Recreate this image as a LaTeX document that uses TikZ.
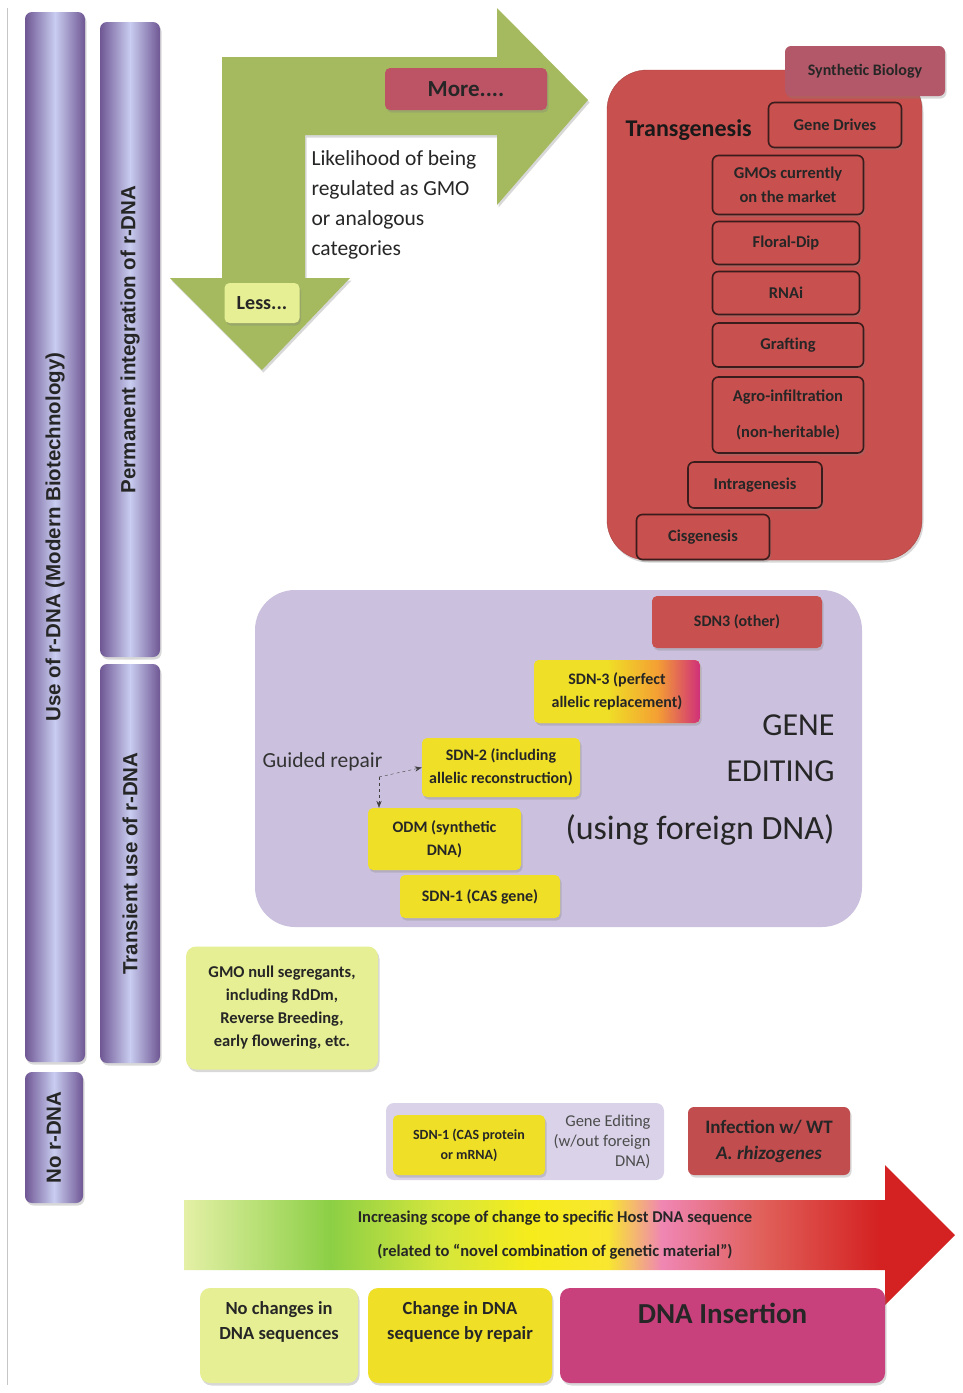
\documentclass[tikz,border=0pt]{standalone}
\usepackage{fontspec}
\setmainfont{Carlito}
\newfontfamily\arialfont{Liberation Sans}[BoldFont={Liberation Sans Bold}]
\usetikzlibrary{positioning,shadows,arrows.meta}

\definecolor{barpurple}{HTML}{6F5794}
\definecolor{barlight}{HTML}{C9CDF0}
\definecolor{arrowgreen}{HTML}{A5BA5F}
\definecolor{morerose}{HTML}{BD5466}
\definecolor{synthrose}{HTML}{B35868}
\definecolor{tgred}{HTML}{C8504E}
\definecolor{boxedge}{HTML}{3B1C1C}
\definecolor{gelav}{HTML}{CBC1DE}
\definecolor{sdnyel}{HTML}{EFDF26}
\definecolor{lightyg}{HTML}{E6EF93}
\definecolor{lavtwo}{HTML}{D9D2E8}
\definecolor{insmag}{HTML}{C8417C}
\definecolor{infred}{HTML}{C24D4F}
\definecolor{sdnorange}{HTML}{F4A033}
\definecolor{sdnmag}{HTML}{D0307A}

\definecolor{sc0}{HTML}{E4F0A6}
\definecolor{sc1}{HTML}{8CCF45}
\definecolor{sc2}{HTML}{D4E63C}
\definecolor{sc3}{HTML}{F6EC1C}
\definecolor{sc4}{HTML}{F8E630}
\definecolor{sc5}{HTML}{EF86B3}
\definecolor{sc6}{HTML}{E0605A}
\definecolor{sc7}{HTML}{D42222}

\pgfdeclarehorizontalshading{scopeshade}{100bp}{color(0bp)=(sc0); color(25bp)=(sc0);
  color(34.5bp)=(sc1); color(41.5bp)=(sc2); color(47.5bp)=(sc3); color(52.5bp)=(sc4);
  color(56bp)=(sc5); color(62.5bp)=(sc6); color(70bp)=(sc7); color(75bp)=(sc7); color(100bp)=(sc7)}
\pgfdeclarehorizontalshading{sdnshade}{100bp}{color(0bp)=(sdnyel); color(25bp)=(sdnyel);
  color(47bp)=(sdnyel); color(62bp)=(sdnorange); color(75bp)=(sdnmag); color(100bp)=(sdnmag)}

\newcommand\fsz[2]{\fontsize{#1}{#2}\selectfont}

\tikzset{
  softshadow/.style={drop shadow={opacity=.3,shadow xshift=1.5pt,shadow yshift=-2.5pt}},
  bar/.style={rounded corners=7pt, left color=barpurple, right color=barpurple, middle color=barlight, softshadow},
  bartext/.style={rotate=90, font=\arialfont\bfseries\fsz{20.5}{24}, text=black!85},
  tgbox/.style={draw=boxedge, line width=1.6pt, fill=tgred, rounded corners=6pt, align=center,
    font=\bfseries\fsz{16.5}{24}, text=black!85, softshadow},
  ybox/.style={fill=sdnyel, rounded corners=5pt, align=center, font=\bfseries\fsz{16}{23},
    text=black!85, softshadow},
  lbox/.style={fill=lightyg, rounded corners=10pt, align=center, text=black!85, softshadow},
  bottomtext/.style={align=center, font=\bfseries\fsz{18.5}{25}, text=black!85}
}

\begin{document}
\begin{tikzpicture}[x=1pt,y=-1pt]
  \fill[white] (0,0) rectangle (963,1393);
  \useasboundingbox (0,0) rectangle (963,1393);
  \draw[gray!45, line width=1pt] (7,8) -- (7,1385);

  % bars on the left
  \node[bar, minimum width=60, minimum height=1050] (use) at (55,537) {};
  \node[bar, minimum width=60, minimum height=635] (perm) at (130,339.5) {};
  \node[bar, minimum width=60, minimum height=399] (trans) at (130,863.5) {};
  \node[bar, minimum width=58, minimum height=131] (nor) at (54,1137.5) {};
  \node[bartext] (uselab) at (use) {Use of r-DNA (Modern Biotechnology)};
  \node[bartext] (permlab) at (perm) {Permanent integration of r-DNA};
  \node[bartext] (translab) at (trans) {Transient use of r-DNA};
  \node[bartext] (norlab) at (nor) {No r-DNA};

  % the bent green arrow
  \fill[arrowgreen, softshadow] (222,57) -- (497,57) -- (497,8) -- (588,100) -- (497,205) -- (497,135)
    -- (305,135) -- (305,278) -- (350,278) -- (262,370) -- (170,278) -- (222,278) -- cycle;
  \node[fill=morerose, rounded corners=5pt, minimum width=162, minimum height=42,
    font=\bfseries\fsz{23}{26}, text=black!85, softshadow] (more) at (466,89) {More....};
  \node[lbox, rounded corners=5pt, minimum width=75, minimum height=40,
    font=\bfseries\fsz{20}{22}] (less) at (262,303) {Less...};
  \node[anchor=north west, align=left, font=\fsz{21.5}{30}, text=black!85] (likely) at (308,147)
    {Likelihood of being\\regulated as GMO\\or analogous\\categories};

  % transgenesis
  \node[fill=tgred, draw=tgred!85!black, rounded corners=40pt, minimum width=315, minimum height=490,
    softshadow] (tg) at (764.5,315) {};
  \node[fill=synthrose, rounded corners=6pt, minimum width=160, minimum height=50,
    font=\bfseries\fsz{16}{18}, text=black!85, softshadow] (synth) at (865,71) {Synthetic Biology};
  \node[anchor=west, font=\bfseries\fsz{24}{26}, text=black!90] (tglab) at (622,130) {Transgenesis};
  \foreach \nm/\cx/\cy/\w/\h/\txt in {
      gd/835/125/133/45/{Gene Drives},
      gmo/788/185/151/59/{GMOs currently\\on the market},
      fdip/786/243/147/43/{Floral-Dip},
      rnai/786/293/147/43/{RNAi},
      graft/788/345/151/44/{Grafting},
      agro/788/415/151/76/{Agro-infiltration\\[12pt](non-heritable)},
      intra/755/485/134/46/{Intragenesis},
      cis/703/537/133/45/{Cisgenesis}}
    \node[tgbox, minimum width=\w, minimum height=\h] (\nm) at (\cx,\cy) {\txt};

  % gene editing with foreign DNA
  \node[fill=gelav, rounded corners=40pt, minimum width=607, minimum height=337] (ge) at (558.5,758.5) {};
  \node[fill=tgred, rounded corners=5pt, minimum width=170, minimum height=52,
    font=\bfseries\fsz{16}{18}, text=black!85, softshadow] (sdnother) at (737,622) {SDN3 (other)};
  \node[ybox, shading=sdnshade, minimum width=166, minimum height=63] (sdnthree) at (617,691.5)
    {SDN-3 (perfect\\allelic replacement)};
  \node[ybox, minimum width=158, minimum height=59] (sdntwo) at (501,767.5)
    {SDN-2 (including\\allelic reconstruction)};
  \node[ybox, minimum width=153, minimum height=62] (odm) at (444.5,839) {ODM (synthetic\\DNA)};
  \node[ybox, minimum width=160, minimum height=43] (sdnone) at (480,896.5) {SDN-1 (CAS gene)};
  \node[anchor=west, font=\fsz{21.5}{24}, text=black!80] (guided) at (259,762) {Guided repair};
  \coordinate (gr) at (379,777);
  \draw[dashed, black!75, -{Stealth[length=7pt]}] (gr) -- (sdntwo.west);
  \draw[dashed, black!75, -{Stealth[length=7pt]}] (gr) -- (gr |- odm.north);
  \node[anchor=east, font=\fsz{32}{34}, text=black!85] (gene) at (838,725) {GENE};
  \node[anchor=east, font=\fsz{32}{34}, text=black!85] (editing) at (838,771) {EDITING};
  \node[anchor=east, font=\fsz{34}{36}, text=black!85] (foreign) at (838,830) {(using foreign DNA)};

  % null segregants
  \node[lbox, minimum width=192, minimum height=123, font=\bfseries\fsz{16.5}{23}] (null) at (282,1008)
    {GMO null segregants,\\including RdDm,\\Reverse Breeding,\\early flowering, etc.};

  % gene editing without foreign DNA
  \node[fill=lavtwo, rounded corners=8pt, minimum width=278, minimum height=77] (wout) at (525,1141.5) {};
  \node[ybox, minimum width=152, minimum height=60, font=\bfseries\fsz{14}{20}] (sdnprot) at (469,1145)
    {SDN-1 (CAS protein\\or mRNA)};
  \node[anchor=east, align=right, font=\fsz{16.5}{20}, text=black!70] (woutlab) at (654,1142)
    {Gene Editing\\(w/out foreign\\DNA)};
  \node[fill=infred, rounded corners=6pt, minimum width=162, minimum height=68, align=center,
    font=\bfseries\fsz{19}{26}, text=black!85, softshadow] (infect) at (769,1141)
    {Infection w/ WT\\\textit{A. rhizogenes}};

  % scope arrow
  \shade[shading=scopeshade] (184,1200) -- (885,1200) -- (885,1165) -- (955,1235) -- (885,1305)
    -- (885,1270) -- (184,1270) -- cycle;
  \node[font=\bfseries\fsz{16.5}{18}, text=black!85] (scopeone) at (555,1218)
    {Increasing scope of change to specific Host DNA sequence};
  \node[font=\bfseries\fsz{16.5}{18}, text=black!85] (scopetwo) at (555,1252)
    {(related to “novel combination of genetic material”)};

  % bottom row
  \node[lbox, minimum width=158, minimum height=95] (nochg) at (279,1335.5) {};
  \node[ybox, rounded corners=10pt, minimum width=184, minimum height=95] (repair) at (460,1335.5) {};
  \node[fill=insmag, rounded corners=10pt, minimum width=325, minimum height=95, softshadow] (ins) at (722.5,1335.5) {};
  \node[bottomtext, below=10pt of nochg.north] (nochglab) {No changes in\\DNA sequences};
  \node[bottomtext, below=10pt of repair.north] (repairlab) {Change in DNA\\sequence by repair};
  \node[bottomtext, font=\bfseries\fsz{29}{30}, below=12pt of ins.north] (inslab) {DNA Insertion};
\end{tikzpicture}
\end{document}
